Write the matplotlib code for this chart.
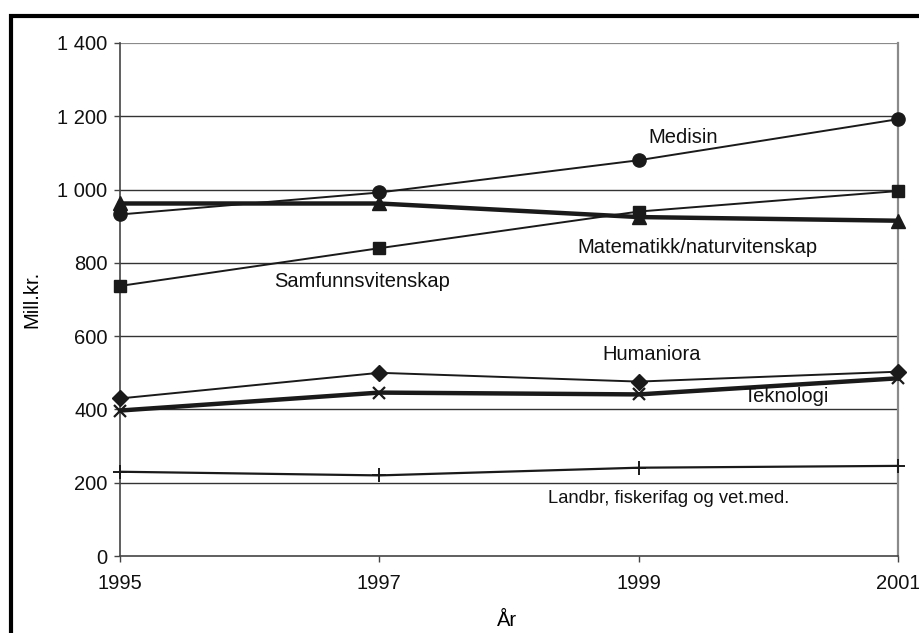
import matplotlib
matplotlib.use("Agg")
import matplotlib.pyplot as plt
from matplotlib.patches import Rectangle
from matplotlib.ticker import FuncFormatter

plt.rcParams['font.family'] = ['Liberation Sans', 'DejaVu Sans']

years = [1995, 1997, 1999, 2001]
medisin = [932, 992, 1080, 1192]
samfunn = [737, 840, 940, 996]
matnat = [962, 962, 925, 915]
humaniora = [430, 500, 476, 503]
teknologi = [397, 446, 441, 485]
landbruk = [230, 220, 241, 246]

y_ticks = [0, 200, 400, 600, 800, 1000, 1200, 1400]

labels = [
    ("Medisin", 1999.34, 1143, 14.5),
    ("Matematikk/naturvitenskap", 1999.45, 843, 14.5),
    ("Samfunnsvitenskap", 1996.87, 748, 14.5),
    ("Humaniora", 1999.10, 549, 14.5),
    ("Teknologi", 2000.14, 434, 14.5),
    ("Landbr, fiskerifag og vet.med.", 1999.23, 156, 13.2),
]

FS = 14.5

fig = plt.figure(figsize=(9.19, 6.33), dpi=100)
ax = fig.add_axes([0.1306, 0.1216, 0.8465, 0.8105])

# frame around the whole chart (right and bottom run past the edge)
fig.patches.append(Rectangle((10.5 / 919, -0.05), 1.2, (633 - 15.5) / 633 + 0.05,
                             transform=fig.transFigure, fill=False,
                             edgecolor='black', linewidth=3, zorder=0))

c = '#1a1a1a'
ax.plot(years, landbruk, color=c, lw=1.6, marker='+', ms=10, mew=1.4, zorder=3, clip_on=False)
ax.plot(years, teknologi, color=c, lw=3.2, marker='x', ms=8, mew=1.6, zorder=3, clip_on=False)
ax.plot(years, humaniora, color=c, lw=1.4, marker='D', ms=8, zorder=4, clip_on=False)
ax.plot(years, samfunn, color=c, lw=1.4, marker='s', ms=9, zorder=4, clip_on=False)
ax.plot(years, matnat, color=c, lw=3.2, marker='^', ms=9.5, zorder=4, clip_on=False)
ax.plot(years, medisin, color=c, lw=1.4, marker='o', ms=9.5, zorder=5, clip_on=False)

for text, x, y, fs in labels:
    ax.text(x, y, text, ha='center', va='center', fontsize=fs, color='#111111')

ax.set_xlim(1995, 2001)
ax.set_ylim(0, 1400)
ax.set_xticks(years)
ax.set_yticks(y_ticks)
ax.yaxis.set_major_formatter(FuncFormatter(lambda v, p: f"{int(v):,}".replace(",", " ")))

for v in y_ticks[1:-1]:
    ax.axhline(v, color='#333333', lw=1.0, zorder=1)
ax.axhline(1400, color='#8a8a8a', lw=1.6, zorder=1)

ax.spines['top'].set_visible(False)
ax.spines['right'].set_color('#8a8a8a')
ax.spines['right'].set_linewidth(1.6)
ax.spines['left'].set_color('#444444')
ax.spines['left'].set_linewidth(1.2)
ax.spines['bottom'].set_color('#444444')
ax.spines['bottom'].set_linewidth(1.2)

ax.tick_params(axis='both', direction='out', length=4, width=1.0, color='#444444',
               labelsize=FS, labelcolor='#111111')
ax.tick_params(axis='y', pad=5)
ax.tick_params(axis='x', pad=9)

ax.set_ylabel("Mill.kr.", fontsize=FS)
ax.set_xlabel("År", fontsize=FS)
ax.yaxis.set_label_coords(-0.101, 0.5)
ax.xaxis.set_label_coords(0.4975, -0.107)

fig.savefig("out.png", dpi=100)
